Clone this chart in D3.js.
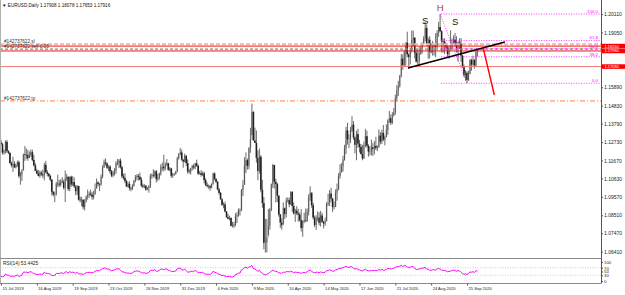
<!DOCTYPE html>
<html>
<head>
<meta charset="utf-8">
<script src="https://cdn.jsdelivr.net/npm/d3@7"></script>
<style>
  html, body { margin: 0; padding: 0; background: #fff; }
  svg { display: block; font-family: "Liberation Sans", Arial, sans-serif; }
</style>
</head>
<body>
<div id="chart"></div>
<script>
// Daily bars, 15 Jul 2019 .. 6 Oct 2020 (forex: open = previous close)
let closes = [
  // Jul 2019
  1.1260,1.1212,1.1222,1.1274,1.1220,1.1210,1.1152,1.1139,1.1146,1.1127,1.1143,1.1157,1.1076,
  // Aug 2019
  1.1086,1.1108,1.1202,1.1200,1.1199,1.1180,1.1199,1.1214,1.1170,1.1139,1.1107,1.1091,1.1078,1.1097,1.1087,1.1081,1.1142,1.1099,1.1090,1.1078,1.1056,1.0986,
  // Sep 2019
  1.0971,1.0973,1.1033,1.1034,1.1027,1.1045,1.1044,1.1009,1.1064,1.1073,1.1002,1.1073,1.1028,1.1043,1.1017,1.0990,1.1020,1.0941,1.0938,1.0940,1.0898,
  // Oct 2019
  1.0931,1.0959,1.0968,1.0976,1.0970,1.0956,1.0971,1.1005,1.1040,1.1031,1.1030,1.1073,1.1125,1.1156,1.1150,1.1125,1.1131,1.1104,1.1080,1.1099,1.1110,1.1152,1.1152,
  // Nov 2019
  1.1166,1.1128,1.1075,1.1066,1.1049,1.1017,1.1032,1.1008,1.1005,1.1020,1.1051,1.1071,1.1078,1.1073,1.1056,1.1022,1.1015,1.1021,1.0999,1.1008,1.1018,
  // Dec 2019
  1.1079,1.1082,1.1078,1.1104,1.1059,1.1066,1.1092,1.1130,1.1131,1.1121,1.1144,1.1151,1.1113,1.1121,1.1079,1.1089,1.1089,1.1102,1.1178,1.1201,1.1213,
  // Jan 2020
  1.1171,1.1160,1.1195,1.1152,1.1104,1.1103,1.1121,1.1134,1.1127,1.1151,1.1136,1.1090,1.1094,1.1083,1.1093,1.1054,1.1026,1.1019,1.1020,1.1010,1.1032,1.1092,
  // Feb 2020
  1.1060,1.1044,1.1000,1.0980,1.0943,1.0910,1.0914,1.0872,1.0840,1.0830,1.0836,1.0790,1.0790,1.0799,1.0846,1.0852,1.0880,1.0880,1.0996,1.1026,
  // Mar 2020
  1.1137,1.1169,1.1136,1.1240,1.1286,1.1447,1.1282,1.1268,1.1182,1.1106,1.1188,1.0998,1.0921,1.0692,1.0695,1.0723,1.0791,1.0883,1.1029,1.1141,1.1044,1.1031,
  // Apr 2020
  1.0964,1.0855,1.0809,1.0793,1.0892,1.0858,1.0936,1.0938,1.0914,1.0985,1.0904,1.0861,1.0877,1.0862,1.0855,1.0822,1.0778,1.0819,1.0824,1.0820,1.0872,1.0955,
  // May 2020
  1.0982,1.0909,1.0838,1.0795,1.0833,1.0838,1.0807,1.0850,1.0814,1.0803,1.0818,1.0915,1.0922,1.0976,1.0947,1.0899,1.0900,1.0981,1.1002,1.1076,1.1101,
  // Jun 2020
  1.1134,1.1172,1.1236,1.1340,1.1289,1.1292,1.1342,1.1373,1.1299,1.1257,1.1319,1.1264,1.1245,1.1204,1.1179,1.1257,1.1307,1.1251,1.1218,1.1219,1.1243,1.1233,
  // Jul 2020
  1.1251,1.1238,1.1245,1.1310,1.1276,1.1326,1.1287,1.1300,1.1342,1.1398,1.1411,1.1384,1.1427,1.1443,1.1526,1.1569,1.1596,1.1655,1.1754,1.1717,1.1790,1.1846,1.1778,
  // Aug 2020
  1.1762,1.1801,1.1860,1.1875,1.1787,1.1737,1.1738,1.1785,1.1813,1.1842,1.1870,1.1930,1.1837,1.1863,1.1795,1.1791,1.1834,1.1829,1.1820,1.1902,1.1936,
  // Sep 2020
  1.1912,1.1854,1.1852,1.1838,1.1818,1.1779,1.1801,1.1812,1.1845,1.1863,1.1845,1.1814,1.1848,1.1838,1.1771,1.1704,1.1658,1.1672,1.1631,1.1665,1.1745,1.1719,
  // Oct 2020
  1.1747,1.1715,1.17908,1.17916
];

let highs = [
  1.1286,1.1268,1.1231,1.1282,1.1285,1.1226,1.1214,1.1160,1.1188,1.1163,1.1150,1.1166,1.1166,
  1.1100,1.1117,1.1206,1.1250,1.1236,1.1227,1.1219,1.1230,1.1229,1.1199,1.1151,1.1118,1.1112,1.1108,1.1107,1.1114,1.1153,1.1165,1.1111,1.1095,1.1085,1.1060,
  1.0991,1.0987,1.1043,1.1085,1.1055,1.1059,1.1071,1.1056,1.1109,1.1089,1.1073,1.1075,1.1079,1.1076,1.1069,1.1026,1.1025,1.1020,1.0959,1.0957,1.0944,
  1.0944,1.0965,1.0999,1.0988,1.0999,1.0986,1.0991,1.1034,1.1063,1.1047,1.1036,1.1086,1.1140,1.1172,1.1179,1.1155,1.1139,1.1140,1.1112,1.1107,1.1122,1.1163,1.1175,
  1.1176,1.1179,1.1136,1.1091,1.1093,1.1055,1.1041,1.1048,1.1014,1.1030,1.1054,1.1083,1.1088,1.1089,1.1097,1.1070,1.1033,1.1030,1.1025,1.1013,1.1026,
  1.1090,1.1093,1.1116,1.1110,1.1112,1.1089,1.1096,1.1145,1.1155,1.1200,1.1155,1.1175,1.1153,1.1129,1.1124,1.1096,1.1094,1.1107,1.1188,1.1210,1.1239,
  1.1229,1.1176,1.1206,1.1194,1.1173,1.1118,1.1125,1.1141,1.1147,1.1153,1.1172,1.1143,1.1106,1.1111,1.1103,1.1103,1.1064,1.1041,1.1028,1.1026,1.1035,1.1096,
  1.1098,1.1065,1.1048,1.1010,1.0985,1.0950,1.0926,1.0929,1.0875,1.0858,1.0849,1.0838,1.0813,1.0814,1.0863,1.0869,1.0890,1.0891,1.1002,1.1053,
  1.1185,1.1213,1.1178,1.1243,1.1355,1.1495,1.1450,1.1356,1.1340,1.1225,1.1236,1.1198,1.1055,1.0956,1.0831,1.0829,1.0887,1.0893,1.1034,1.1147,1.1141,1.1061,
  1.1038,1.0966,1.0859,1.0834,1.0925,1.0896,1.0952,1.0954,1.0953,1.0990,1.0990,1.0925,1.0888,1.0903,1.0888,1.0867,1.0887,1.0823,1.0866,1.0890,1.0890,1.0972,
  1.1018,1.0975,1.0923,1.0849,1.0851,1.0874,1.0868,1.0876,1.0865,1.0820,1.0838,1.0927,1.0975,1.0996,1.1009,1.0951,1.0930,1.1000,1.1034,1.1093,1.1146,
  1.1152,1.1194,1.1257,1.1361,1.1384,1.1317,1.1360,1.1422,1.1394,1.1306,1.1338,1.1350,1.1286,1.1262,1.1257,1.1276,1.1349,1.1339,1.1260,1.1249,1.1287,1.1267,
  1.1279,1.1303,1.1253,1.1346,1.1330,1.1344,1.1371,1.1310,1.1375,1.1404,1.1452,1.1433,1.1445,1.1470,1.1546,1.1601,1.1626,1.1660,1.1781,1.1777,1.1805,1.1847,1.1909,
  1.1785,1.1818,1.1916,1.1916,1.1875,1.1810,1.1806,1.1820,1.1828,1.1847,1.1883,1.1966,1.1951,1.1876,1.1883,1.1843,1.1856,1.1836,1.1900,1.1916,1.1966,
  1.2011,1.1917,1.1869,1.1872,1.1846,1.1834,1.1830,1.1917,1.1870,1.1888,1.1901,1.1883,1.1853,1.1871,1.1872,1.1776,1.1719,1.1687,1.1681,1.1684,1.1751,1.1754,
  1.1771,1.1750,1.1799,1.18078
];

let lows = [
  1.1254,1.1201,1.1200,1.1207,1.1211,1.1203,1.1148,1.1127,1.1101,1.1124,1.1120,1.1130,1.1067,
  1.1027,1.1049,1.1109,1.1164,1.1174,1.1165,1.1181,1.1188,1.1162,1.1133,1.1105,1.1088,1.1075,1.1067,1.1076,1.1065,1.1052,1.1093,1.1075,1.1070,1.1047,1.0965,
  1.0960,1.0926,1.0964,1.1014,1.1014,1.1017,1.1036,1.0999,1.0927,1.1049,1.0992,1.0990,1.1015,1.1019,1.1009,1.0966,1.0968,1.0935,1.0925,1.0904,1.0885,
  1.0879,1.0925,1.0941,1.0951,1.0962,1.0940,1.0943,1.0970,1.1005,1.1017,1.0990,1.1021,1.1064,1.1124,1.1138,1.1117,1.1106,1.1090,1.1071,1.1070,1.1080,1.1090,1.1139,
  1.1123,1.1120,1.1064,1.1056,1.1036,1.1014,1.1010,1.0994,1.0989,1.0996,1.1016,1.1041,1.1053,1.1052,1.1053,1.1013,1.1007,1.1007,1.0992,1.0995,1.0981,
  1.1008,1.1061,1.1068,1.1069,1.1040,1.1047,1.1057,1.1080,1.1107,1.1104,1.1110,1.1135,1.1107,1.1104,1.1067,1.1067,1.1078,1.1085,1.1098,1.1172,1.1197,
  1.1165,1.1125,1.1156,1.1135,1.1090,1.1092,1.1085,1.1109,1.1115,1.1117,1.1130,1.1083,1.1086,1.1073,1.1077,1.1036,1.1019,1.1010,1.1003,1.0992,1.1006,1.1027,
  1.1052,1.1036,1.0995,1.0969,1.0941,1.0905,1.0891,1.0868,1.0837,1.0828,1.0822,1.0786,1.0781,1.0778,1.0788,1.0806,1.0842,1.0849,1.0874,1.0962,
  1.1026,1.1094,1.1114,1.1116,1.1211,1.1313,1.1282,1.1267,1.1155,1.1053,1.1091,1.0983,1.0894,1.0655,1.0636,1.0637,1.0735,1.0768,1.0875,1.1008,1.1005,1.0925,
  1.0927,1.0843,1.0778,1.0768,1.0800,1.0830,1.0839,1.0925,1.0897,1.0910,1.0870,1.0856,1.0813,1.0852,1.0814,1.0815,1.0757,1.0727,1.0806,1.0811,1.0812,1.0850,
  1.0934,1.0894,1.0827,1.0782,1.0767,1.0817,1.0792,1.0786,1.0808,1.0775,1.0790,1.0814,1.0905,1.0904,1.0928,1.0870,1.0885,1.0898,1.0935,1.0995,1.1063,
  1.1097,1.1103,1.1166,1.1204,1.1258,1.1238,1.1268,1.1331,1.1286,1.1207,1.1168,1.1240,1.1213,1.1202,1.1168,1.1175,1.1243,1.1241,1.1189,1.1196,1.1196,1.1193,
  1.1202,1.1227,1.1221,1.1240,1.1260,1.1262,1.1278,1.1254,1.1300,1.1315,1.1383,1.1371,1.1376,1.1421,1.1430,1.1506,1.1539,1.1587,1.1646,1.1690,1.1710,1.1713,1.1762,
  1.1696,1.1720,1.1789,1.1828,1.1755,1.1731,1.1712,1.1711,1.1775,1.1782,1.1832,1.1854,1.1827,1.1753,1.1754,1.1785,1.1771,1.1772,1.1762,1.1812,1.1880,
  1.1907,1.1789,1.1789,1.1781,1.1809,1.1765,1.1753,1.1802,1.1810,1.1837,1.1823,1.1789,1.1737,1.1809,1.1735,1.1700,1.1646,1.1626,1.1612,1.1625,1.1664,1.1684,
  1.1713,1.1696,1.1707,1.17653
];

// Closes before the first visible bar (24 Jun .. 12 Jul 2019), only to start RSI(14)
let rsiSeedCloses = [1.1398,1.1364,1.1369,1.1372,1.1370,1.1286,1.1287,1.1283,1.1284,1.1225,1.1214,1.1206,1.1252,1.1254,1.1271];

// Time axis labels (bar index and text)
let dateLabelBars = [0, 24, 48, 72, 96, 120, 144, 168, 192, 216, 240, 264, 288, 312];
let dateLabels = ["15 Jul 2019", "16 Aug 2019", "19 Sep 2019", "23 Oct 2019", "26 Nov 2019", "31 Dec 2019",
  "4 Feb 2020", "9 Mar 2020", "10 Apr 2020", "14 May 2020", "17 Jun 2020", "21 Jul 2020", "24 Aug 2020", "25 Sep 2020"];

// Price axis labels
let priceTicks = [1.20110, 1.19050, 1.15890, 1.14830, 1.13790, 1.12730, 1.11670, 1.10630, 1.09570, 1.08510, 1.07470, 1.06410];
let rsiTicks = [100, 70, 50, 30, 0];
let rsiLevels = [70, 30];
let rsiLabelValue = 53.4425;

// Order and level lines
let orderId = "#142737622";
let slPrice = 1.1836;
let sellPrice = 1.1808;
let sellLots = "0.05";
let tpPrice = 1.1510;
let redLevels = [1.1826, 1.1798, 1.1708];

// Fibonacci from the 1 Sep high to the 25 Sep low
let fibHigh = { bar: 294, price: 1.2011 };
let fibLow = { bar: 312, price: 1.1612 };
let fibLevels = [0, 38.2, 50, 61.8, 100];

// Head and shoulders drawing
let patternLabels = [
  { text: "S", bar: 284, price: 1.1974, color: "#111" },
  { text: "H", bar: 294, price: 1.2046, color: "#b03a22" },
  { text: "S", bar: 304, price: 1.1969, color: "#111" },
];
let neckline = [{ bar: 272.5, price: 1.1700 }, { bar: 337.4, price: 1.1850 }];
let arrowLine = [{ bar: 322.9, price: 1.1813 }, { bar: 330.3, price: 1.1544 }];

// Build bars
let bars = closes.map((close, i) => ({
  index: i,
  open: i === 0 ? rsiSeedCloses[rsiSeedCloses.length - 1] : closes[i - 1],
  high: highs[i],
  low: lows[i],
  close,
}));

// RSI(14), Wilder smoothing
function computeRsi(values, period) {
  let out = values.map(() => null);
  let gain = 0, loss = 0;
  for (let i = 1; i <= period; i++) {
    let ch = values[i] - values[i - 1];
    if (ch > 0) gain += ch; else loss -= ch;
  }
  gain /= period;
  loss /= period;
  out[period] = 100 - 100 / (1 + gain / loss);
  for (let i = period + 1; i < values.length; i++) {
    let ch = values[i] - values[i - 1];
    gain = (gain * (period - 1) + Math.max(ch, 0)) / period;
    loss = (loss * (period - 1) + Math.max(-ch, 0)) / period;
    out[i] = 100 - 100 / (1 + gain / loss);
  }
  return out;
}
let rsiAll = computeRsi(rsiSeedCloses.concat(closes), 14);
let rsi = rsiAll.slice(rsiSeedCloses.length).map((v, i) => ({ index: i, value: v }));

// Set up dimensions
let width = 625;
let height = 295;
let plot = { left: 0, right: 601, top: 0, bottom: 258.5 };
let rsiPanel = { top: 259.5, bottom: 283.5 };

// Set up colors
let magenta = "#ff00ff";
let red = "#f01818";
let gridText = "#222";

// Set up formatters
let fmtPrice = d3.format(".5f");
let fmtFib = d3.format(".1f");

// Set up scales
let xScale = d3.scaleLinear()
  .domain([dateLabelBars[0], dateLabelBars[dateLabelBars.length - 1]])
  .range([1, 467]);
let yScale = d3.scaleLinear().domain([1.06410, 1.20110]).range([251.7, 14]);
let rsiScale = d3.scaleLinear().domain([0, 100]).range([281, 262]);

let container = d3.select("#chart");
let svg = container.append("svg").attr("width", width).attr("height", height);

svg.append("rect").attr("width", width).attr("height", height).attr("fill", "#fff");

svg.append("defs").append("clipPath").attr("id", "plot-clip")
  .append("rect")
  .attr("x", plot.left).attr("y", plot.top)
  .attr("width", plot.right - plot.left).attr("height", plot.bottom - plot.top);

let main = svg.append("g").attr("clip-path", "url(#plot-clip)");

// Draw candles
let candle = main.append("g").attr("class", "candles")
  .selectAll("g").data(bars).join("g");

candle.append("rect")
  .attr("x", (d) => xScale(d.index) - 0.8)
  .attr("width", 1.6)
  .attr("y", (d) => yScale(Math.max(d.open, d.close)))
  .attr("height", (d) => Math.max(0.6, Math.abs(yScale(d.open) - yScale(d.close))))
  .attr("fill", (d) => (d.close >= d.open ? "#b8b8b8" : "#2a2a2a"));

candle.append("line")
  .attr("x1", (d) => xScale(d.index)).attr("x2", (d) => xScale(d.index))
  .attr("y1", (d) => yScale(d.high)).attr("y2", (d) => yScale(d.low))
  .attr("stroke", "#1a1a1a").attr("stroke-width", 0.65);

// Draw level lines
let hLine = (price, stroke, sw, dash, x1) =>
  main.append("line")
    .attr("x1", x1 === undefined ? plot.left : x1).attr("x2", plot.right)
    .attr("y1", yScale(price)).attr("y2", yScale(price))
    .attr("stroke", stroke).attr("stroke-width", sw)
    .attr("stroke-dasharray", dash);

hLine(slPrice, "#f7b4a8", 2, "4,2");
hLine(sellPrice, "#6f9a74", 1.2, "3,2");
hLine(redLevels[0], red, 1);
hLine(redLevels[1], red, 1);
hLine(redLevels[2], "#f07a70", 1);
hLine(tpPrice, "#ff8040", 1, "5,2,1,2");

// Draw fibonacci
let fibPrice = (lvl) => fibLow.price + ((fibHigh.price - fibLow.price) * lvl) / 100;
fibLevels.forEach((lvl) => hLine(fibPrice(lvl), magenta, 0.8, "1,1.5", xScale(fibHigh.bar) + 1));

main.append("line")
  .attr("x1", xScale(fibHigh.bar)).attr("y1", yScale(fibHigh.price))
  .attr("x2", xScale(fibLow.bar)).attr("y2", yScale(fibLow.price))
  .attr("stroke", magenta).attr("stroke-width", 0.8).attr("stroke-dasharray", "1,1.5");

main.append("g").selectAll("text").data(fibLevels).join("text")
  .attr("x", plot.right - 3)
  .attr("y", (d) => yScale(fibPrice(d)) - 1)
  .attr("text-anchor", "end")
  .attr("font-size", 4.4)
  .attr("fill", magenta)
  .text((d) => fmtFib(d));

// Draw neckline and projection
let lineGen = d3.line().x((d) => xScale(d.bar)).y((d) => yScale(d.price));
main.append("path").attr("d", lineGen(neckline))
  .attr("fill", "none").attr("stroke", "#000").attr("stroke-width", 1.5);
main.append("path").attr("d", lineGen(arrowLine))
  .attr("fill", "none").attr("stroke", "#ff0000").attr("stroke-width", 1.4);

// Draw pattern labels
main.append("g").selectAll("text").data(patternLabels).join("text")
  .attr("x", (d) => xScale(d.bar))
  .attr("y", (d) => yScale(d.price))
  .attr("dy", "0.35em")
  .attr("text-anchor", "middle")
  .attr("font-size", 9.5)
  .attr("fill", (d) => d.color)
  .text((d) => d.text);

// Draw order labels
let orderText = [
  { price: slPrice, text: `${orderId} sl` },
  { price: sellPrice, text: `${orderId} sell ${sellLots}` },
  { price: tpPrice, text: `${orderId} tp` },
];
main.append("g").selectAll("text").data(orderText).join("text")
  .attr("x", 4)
  .attr("y", (d) => yScale(d.price) - 1.3)
  .attr("font-size", 4.7)
  .attr("fill", "#333")
  .text((d) => d.text);

// Draw header
let last = bars[bars.length - 1];
svg.append("text")
  .attr("x", 2).attr("y", 7)
  .attr("font-size", 4.6)
  .attr("fill", "#111")
  .text(`\u25BC EURUSD,Daily  ${fmtPrice(last.open)} ${fmtPrice(last.high)} ${fmtPrice(last.low)} ${fmtPrice(last.close)}`);

// Draw frames
svg.append("line").attr("x1", 0.5).attr("x2", 0.5).attr("y1", 0).attr("y2", rsiPanel.bottom)
  .attr("stroke", "#b0b0b0");
svg.append("line").attr("x1", 0).attr("x2", plot.right).attr("y1", plot.bottom).attr("y2", plot.bottom)
  .attr("stroke", "#8a8a8a").attr("stroke-width", 1.2);
svg.append("line").attr("x1", 0).attr("x2", plot.right).attr("y1", rsiPanel.bottom).attr("y2", rsiPanel.bottom)
  .attr("stroke", "#8a8a8a").attr("stroke-width", 1);

// Draw y axis
let yAxisG = svg.append("g")
  .attr("transform", `translate(${plot.right},0)`)
  .call(d3.axisRight(yScale).tickValues(priceTicks).tickFormat(fmtPrice).tickSize(2).tickPadding(1));
yAxisG.select(".domain").attr("d", `M0.5,0V${rsiPanel.bottom}`).attr("stroke", "#555");
yAxisG.selectAll("text").attr("font-size", 5).attr("fill", gridText).attr("font-family", "Liberation Sans, Arial, sans-serif");
yAxisG.selectAll(".tick line").attr("stroke", "#555");

// Draw red price boxes
let box = svg.append("g").selectAll("g").data(redLevels).join("g")
  .attr("transform", (d) => `translate(${plot.right + 1},${yScale(d)})`);
box.append("rect").attr("x", 0).attr("y", -2.3).attr("width", 24).attr("height", 4.6).attr("fill", "#ff0000");
box.append("text").attr("x", 2.5).attr("dy", "0.35em").attr("font-size", 4).attr("fill", "#fff")
  .text((d) => fmtPrice(d));

// Draw RSI levels
svg.append("g").selectAll("line").data(rsiLevels).join("line")
  .attr("x1", 0).attr("x2", plot.right)
  .attr("y1", (d) => rsiScale(d)).attr("y2", (d) => rsiScale(d))
  .attr("stroke", "#b8b8b8").attr("stroke-width", 0.7).attr("stroke-dasharray", "1,1.5");

// Draw RSI line
svg.append("path")
  .datum(rsi)
  .attr("fill", "none")
  .attr("stroke", magenta)
  .attr("stroke-width", 1)
  .attr("d", d3.line().defined((d) => d.value !== null).x((d) => xScale(d.index)).y((d) => rsiScale(d.value)));

svg.append("text")
  .attr("x", 3).attr("y", 265)
  .attr("font-size", 4.8)
  .attr("fill", "#222")
  .text(`RSI(14) ${rsiLabelValue}`);

// Draw RSI axis
let rsiAxisG = svg.append("g")
  .attr("transform", `translate(${plot.right},0)`)
  .call(d3.axisRight(rsiScale).tickValues(rsiTicks).tickSize(2).tickPadding(1));
rsiAxisG.select(".domain").remove();
rsiAxisG.selectAll("text").attr("font-size", 4.3).attr("fill", gridText).attr("font-family", "Liberation Sans, Arial, sans-serif");
rsiAxisG.selectAll(".tick line").attr("stroke", "#555");

// Draw x axis
let xAxisG = svg.append("g")
  .attr("transform", `translate(0,${rsiPanel.bottom})`)
  .call(d3.axisBottom(xScale).tickValues(dateLabelBars).tickFormat((d, i) => dateLabels[i]).tickSize(2).tickPadding(2));
xAxisG.select(".domain").remove();
xAxisG.selectAll(".tick line").attr("stroke", "#555");
xAxisG.selectAll("text")
  .attr("text-anchor", "start")
  .attr("x", 1)
  .attr("font-size", 4.1)
  .attr("fill", gridText)
  .attr("font-family", "Liberation Sans, Arial, sans-serif");
</script>
</body>
</html>
